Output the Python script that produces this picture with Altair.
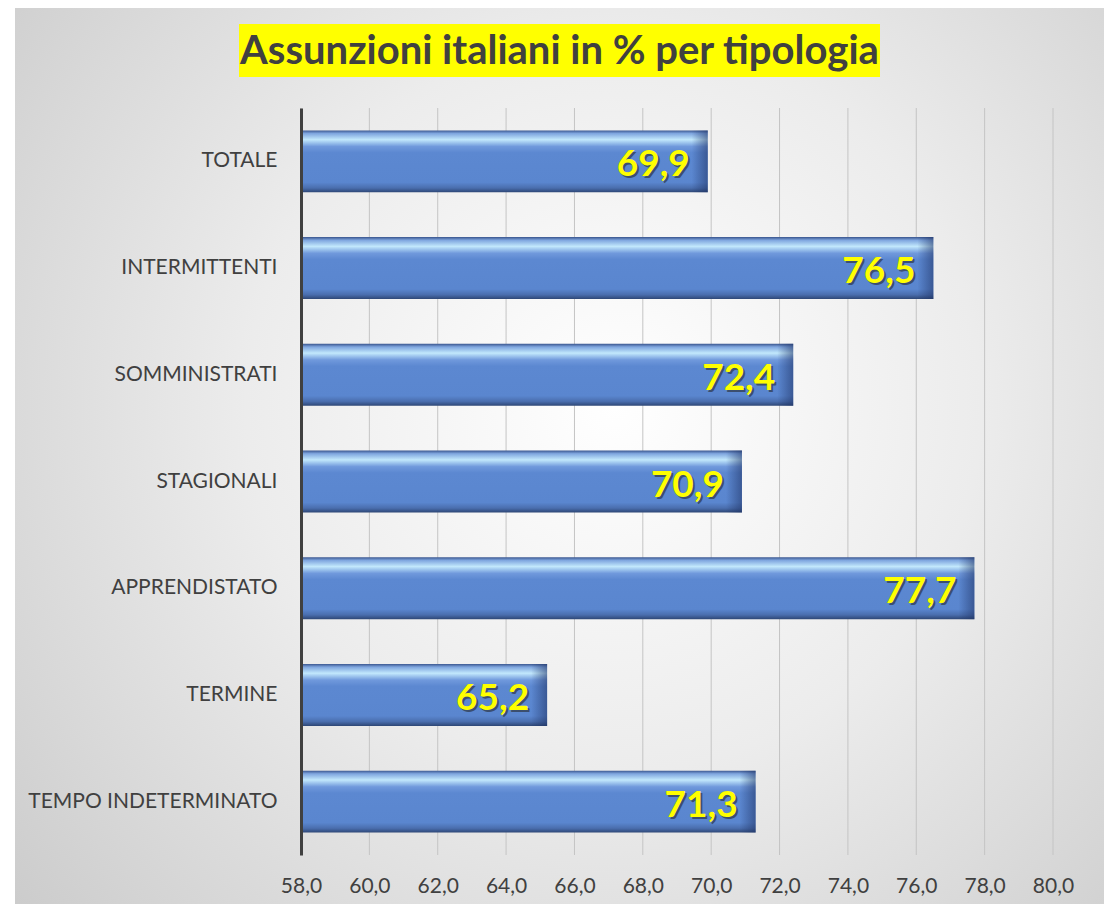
import altair as alt
import pandas as pd

CATEGORIES = ["TOTALE", "INTERMITTENTI", "SOMMINISTRATI", "STAGIONALI",
              "APPRENDISTATO", "TERMINE", "TEMPO INDETERMINATO"]
VALUES = [69.9, 76.5, 72.4, 70.9, 77.7, 65.2, 71.3]
X_TICKS = [58, 60, 62, 64, 66, 68, 70, 72, 74, 76, 78, 80]
X_MIN, X_MAX = 58, 80
TITLE = "Assunzioni italiani in % per tipologia"

W, H = 752, 747
FONT = "Lato"

df = pd.DataFrame({"cat": CATEGORIES, "v": VALUES})
df["base"] = X_MIN
ticks_df = pd.DataFrame({"t": X_TICKS})

xscale = alt.Scale(domain=[X_MIN, X_MAX], nice=False, zero=False)
yscale = alt.Scale(paddingInner=0.42, paddingOuter=0.21)
ysort = CATEGORIES

one = alt.Data(values=[{"a": 1}])

bg = alt.Chart(one).mark_rect(
    fill={"gradient": "radial", "x1": 0.55, "y1": 0.45, "r1": 0,
          "x2": 0.55, "y2": 0.45, "r2": 0.75,
          "stops": [{"offset": 0, "color": "#ffffff"},
                    {"offset": 0.45, "color": "#ececec"},
                    {"offset": 1, "color": "#c9c9c9"}]}
).encode(x=alt.value(-286), x2=alt.value(W + 51), y=alt.value(-105), y2=alt.value(H + 60))

title_box = alt.Chart(one).mark_rect(fill="#ffff00").encode(
    x=alt.value(-62), x2=alt.value(579), y=alt.value(-84), y2=alt.value(-31))
title_text = alt.Chart(one).mark_text(
    text=TITLE, font=FONT, fontWeight="bold", fontSize=40, color="#404040",
    align="center", baseline="middle"
).encode(x=alt.value(258.5), y=alt.value(-56))

x_axis = alt.Axis(values=X_TICKS, grid=False, domain=False, ticks=False,
                  labelExpr="replace(format(datum.value, '.1f'), '.', ',')",
                  labelFont=FONT, labelFontSize=21, labelColor="#404040",
                  labelPadding=20, labelFlush=False, zindex=1)

grid = alt.Chart(ticks_df).mark_rule(color="#c4c4c4", strokeWidth=1).encode(
    x=alt.X("t:Q", scale=xscale, axis=x_axis, title=None),
    y=alt.value(0), y2=alt.value(H))

bar_fill = {"gradient": "linear", "x1": 0, "y1": 0, "x2": 0, "y2": 1,
            "stops": [{"offset": 0, "color": "#3b5790"},
                      {"offset": 0.05, "color": "#7fa6df"},
                      {"offset": 0.15, "color": "#c2e8fc"},
                      {"offset": 0.26, "color": "#7099dc"},
                      {"offset": 0.36, "color": "#5c88d1"},
                      {"offset": 0.84, "color": "#5a86cf"},
                      {"offset": 0.93, "color": "#4a6eae"},
                      {"offset": 1, "color": "#2e4776"}]}

bars = alt.Chart(df).mark_rect(fill=bar_fill).encode(
    x=alt.X("v:Q", scale=xscale, title=None, axis=x_axis),
    x2="base:Q",
    y=alt.Y("cat:N", sort=ysort, scale=yscale, title=None,
            axis=alt.Axis(domain=True, domainColor="#404040", domainWidth=3,
                          ticks=False, labelFont=FONT, labelFontSize=21,
                          labelColor="#404040", labelPadding=24, labelLimit=0,
                          zindex=1)))

bevel = alt.Chart(df).mark_rect(
    xOffset=-16,
    fill={"gradient": "linear", "x1": 0, "y1": 0, "x2": 1, "y2": 0,
          "stops": [{"offset": 0, "color": "rgba(30,50,100,0)"},
                    {"offset": 1, "color": "rgba(30,50,100,0.55)"}]}
).encode(x=alt.X("v:Q", scale=xscale), x2="v:Q",
         y=alt.Y("cat:N", sort=ysort, scale=yscale))

lab_base = alt.Chart(df).transform_calculate(
    lab="replace(format(datum.v, '.1f'), '.', ',')")

shadow = lab_base.mark_text(
    font=FONT, fontWeight="bold", fontSize=37, color="#222222", opacity=0.55,
    align="right", baseline="middle", dx=-16, dy=6
).encode(x=alt.X("v:Q", scale=xscale), y=alt.Y("cat:N", sort=ysort, scale=yscale),
         text="lab:N")

labels = lab_base.mark_text(
    font=FONT, fontWeight="bold", fontSize=37, color="#ffff00",
    align="right", baseline="middle", dx=-18, dy=4
).encode(x=alt.X("v:Q", scale=xscale), y=alt.Y("cat:N", sort=ysort, scale=yscale),
         text="lab:N")

chart = alt.layer(bg, title_box, title_text, grid, bars, bevel, shadow, labels).properties(
    width=W, height=H,
    padding={"left": 293, "top": 100, "right": 51, "bottom": 49},
    autosize=alt.AutoSizeParams(type="none"),
    background="white"
).configure_view(stroke=None)

chart.save("out.html", embed_options={"renderer": "svg", "actions": False})
